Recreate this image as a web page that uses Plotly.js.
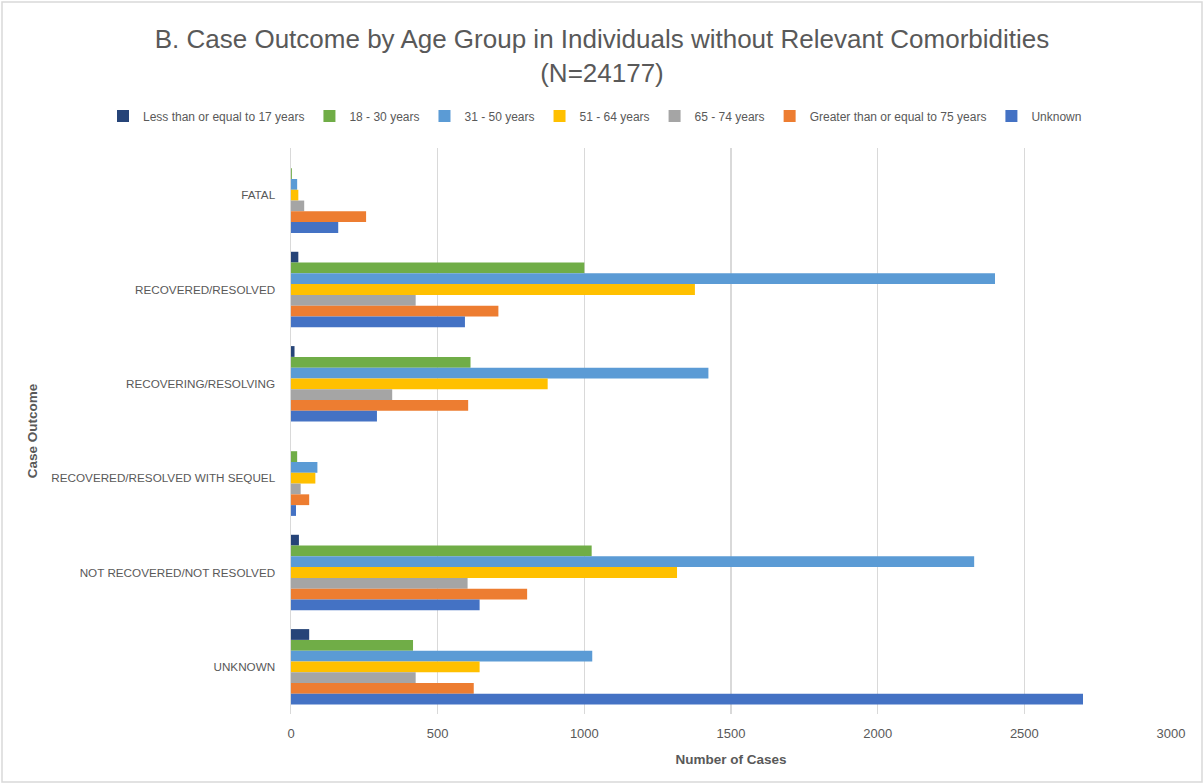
<!DOCTYPE html>
<html>
<head>
<meta charset="utf-8">
<script src="https://cdn.plot.ly/plotly-3.0.1.min.js"></script>
<style>
  html, body { margin: 0; padding: 0; background: #ffffff; }
  #chart { width: 1204px; height: 784px; }
</style>
</head>
<body>
<div id="chart"></div>
<script>
// Categories (top to bottom)
const outcomes = ["FATAL", "RECOVERED/RESOLVED", "RECOVERING/RESOLVING",
  "RECOVERED/RESOLVED WITH SEQUEL", "NOT RECOVERED/NOT RESOLVED", "UNKNOWN"];

// Series names
const seriesNames = ["Less than or equal to 17 years", "18 - 30 years", "31 - 50 years",
  "51 - 64 years", "65 - 74 years", "Greater than or equal to 75 years", "Unknown"];

// Values per age group (same order as outcomes)
const age17orLess = [0, 25, 12, 0, 27, 62];
const age18to30   = [3, 1000, 612, 21, 1025, 416];
const age31to50   = [21, 2400, 1423, 90, 2329, 1027];
const age51to64   = [25, 1377, 875, 83, 1316, 643];
const age65to74   = [45, 425, 345, 33, 602, 425];
const age75plus   = [256, 707, 604, 62, 805, 623];
const ageUnknown  = [161, 593, 293, 17, 643, 2700];

const xTicks = [0, 500, 1000, 1500, 2000, 2500, 3000];

const seriesValues = [age17orLess, age18to30, age31to50, age51to64, age65to74, age75plus, ageUnknown];
const colors = ["#264478", "#70AD47", "#5B9BD5", "#FFC000", "#A5A5A5", "#ED7D31", "#4472C4"];

const FONT = "Liberation Sans, Arial, sans-serif";
const TXT = "#595959";

const traces = seriesNames.map((name, i) => ({
  type: "bar",
  orientation: "h",
  name: name,
  y: outcomes,
  x: seriesValues[i],
  marker: { color: colors[i], line: { width: 0 } },
  hoverinfo: "x+name"
}));

// plot area pixel box: x 291..1171, y 148..714
const L = 291, R = 1171, T = 148, B = 714;
const W = R - L, H = B - T;

const layout = {
  width: 1204,
  height: 784,
  paper_bgcolor: "#ffffff",
  plot_bgcolor: "#ffffff",
  margin: { l: L, r: 1204 - R, t: T, b: 784 - B, pad: 0 },
  font: { family: FONT, color: TXT, size: 13 },
  title: {
    text: "B. Case Outcome by Age Group in Individuals without Relevant Comorbidities<br>(N=24177)",
    font: { family: FONT, size: 26, color: TXT },
    x: 0.5, xref: "container", xanchor: "center",
    y: 1 - 48 / 784, yref: "container", yanchor: "middle"
  },
  barmode: "group",
  bargap: 0.2,
  bargroupgap: 0,
  showlegend: true,
  legend: {
    orientation: "h",
    xref: "paper", yref: "paper",
    x: (103 - L) / W, xanchor: "left",
    y: (B - 116) / H, yanchor: "middle",
    font: { family: FONT, size: 12, color: TXT },
    traceorder: "normal",
    itemwidth: 30,
    bgcolor: "rgba(0,0,0,0)"
  },
  xaxis: {
    range: [0, 3000],
    tickvals: xTicks,
    ticktext: xTicks.map(String),
    showgrid: true,
    gridcolor: "#d9d9d9",
    gridwidth: 1.5,
    zeroline: false,
    showline: false,
    ticks: "",
    ticklabelstandoff: 10,
    tickfont: { family: FONT, size: 13, color: TXT },
    title: { text: "<b>Number of Cases</b>", font: { family: FONT, size: 13.5, color: TXT }, standoff: 14 },
    fixedrange: true
  },
  yaxis: {
    autorange: "reversed",
    type: "category",
    showgrid: false,
    zeroline: false,
    showline: true,
    linecolor: "#d9d9d9",
    linewidth: 1.5,
    ticks: "",
    ticklabelstandoff: 12,
    tickfont: { family: FONT, size: 11.7, color: TXT },
    title: { text: "<b>Case Outcome</b>", font: { family: FONT, size: 13.5, color: TXT }, standoff: 10 },
    automargin: false,
    fixedrange: true
  },
  shapes: [{
    type: "rect", xref: "paper", yref: "paper",
    x0: (2 - L) / W, x1: (1202 - L) / W,
    y0: (B - 782) / H, y1: (B - 2) / H,
    line: { color: "#d9d9d9", width: 1.5 },
    fillcolor: "rgba(0,0,0,0)",
    layer: "below"
  }]
};

Plotly.newPlot("chart", traces, layout, { displayModeBar: false, staticPlot: true });
</script>
</body>
</html>
